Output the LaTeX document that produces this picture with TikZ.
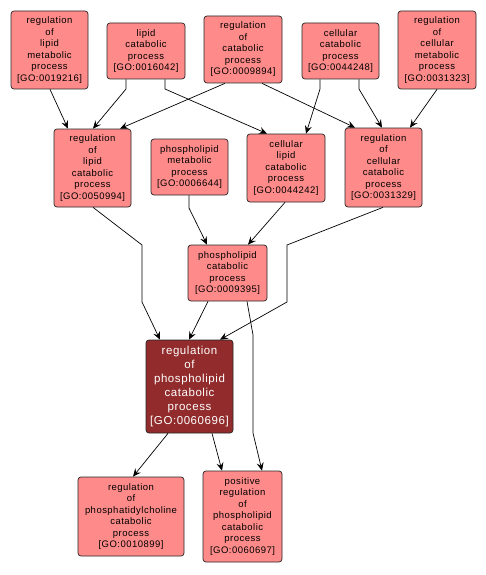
\documentclass[tikz,border=0pt]{standalone}
\usepackage{fontspec}
\setmainfont{Liberation Sans}
\newfontfamily\lsfont[LetterSpace=5]{Liberation Sans}
\usetikzlibrary{arrows.meta}
\definecolor{lightred}{HTML}{FF8A8A}
\definecolor{darkred}{HTML}{922B2B}
\tikzset{
  goterm/.style={draw=black!85, line width=0.7pt, rounded corners=3pt, fill=lightred,
    inner sep=0pt, align=center, font=\lsfont\fontsize{9.5}{11.5}\selectfont, text=black},
  focus/.style={goterm, fill=darkred, text=white, font=\lsfont\fontsize{11.5}{14}\selectfont},
  edge/.style={line width=0.7pt, -{Stealth[length=8pt,width=7pt,inset=3pt]}}
}
\begin{document}
\begin{tikzpicture}[x=1pt,y=-1pt]
\useasboundingbox (0,0) rectangle (486,575);
\node[goterm, minimum width=77pt, minimum height=78pt] (a) at (49.5,50) {regulation\\of\\lipid\\metabolic\\process\\{[GO:0019216]}};
\node[goterm, minimum width=78pt, minimum height=56pt] (b) at (146,51) {lipid\\catabolic\\process\\{[GO:0016042]}};
\node[goterm, minimum width=78pt, minimum height=67pt] (c) at (243,49.5) {regulation\\of\\catabolic\\process\\{[GO:0009894]}};
\node[goterm, minimum width=77pt, minimum height=56pt] (d) at (340.5,51) {cellular\\catabolic\\process\\{[GO:0044248]}};
\node[goterm, minimum width=78pt, minimum height=78pt] (e) at (437,50) {regulation\\of\\cellular\\metabolic\\process\\{[GO:0031323]}};
\node[goterm, minimum width=77pt, minimum height=78pt] (f) at (92.5,168) {regulation\\of\\lipid\\catabolic\\process\\{[GO:0050994]}};
\node[goterm, minimum width=77pt, minimum height=56pt] (g) at (189.5,167) {phospholipid\\metabolic\\process\\{[GO:0006644]}};
\node[goterm, minimum width=78pt, minimum height=68pt] (h) at (286,168) {cellular\\lipid\\catabolic\\process\\{[GO:0044242]}};
\node[goterm, minimum width=77pt, minimum height=79pt] (i) at (383.5,167.5) {regulation\\of\\cellular\\catabolic\\process\\{[GO:0031329]}};
\node[goterm, minimum width=79pt, minimum height=56pt] (j) at (227.5,273) {phospholipid\\catabolic\\process\\{[GO:0009395]}};
\node[focus, minimum width=87pt, minimum height=93pt] (k) at (189.5,386.5) {regulation\\of\\phospholipid\\catabolic\\process\\{[GO:0060696]}};
\node[goterm, minimum width=106pt, minimum height=79pt] (l) at (131,516.5) {regulation\\of\\phosphatidylcholine\\catabolic\\process\\{[GO:0010899]}};
\node[goterm, minimum width=79pt, minimum height=91pt] (m) at (242.5,516.5) {positive\\regulation\\of\\phospholipid\\catabolic\\process\\{[GO:0060697]}};
\coordinate (w2) at (126,89);
\coordinate (w4) at (165,89);
\coordinate (w6) at (320,89);
\coordinate (w7) at (359,89);
\coordinate (w9a) at (142,245);
\coordinate (w9b) at (142,302);
\coordinate (w10) at (189,208);
\coordinate (w12a) at (287,245);
\coordinate (w12b) at (287,302);
\coordinate (w14a) at (253,335);
\coordinate (w14b) at (253,433);
\draw[edge] ([xshift=0.5pt]a.south) -- ([xshift=-24.5pt]f.north);
\draw[edge] ([xshift=-20pt]b.south) -- (w2) -- ([xshift=0.5pt]f.north);
\draw[edge] ([xshift=-18pt]c.south) -- ([xshift=27.5pt]f.north);
\draw[edge] ([xshift=19pt]b.south) -- (w4) -- ([xshift=-19pt]h.north);
\draw[edge] ([xshift=19pt]c.south) -- ([xshift=-28.5pt]i.north);
\draw[edge] ([xshift=-20.5pt]d.south) -- (w6) -- ([xshift=20pt]h.north);
\draw[edge] ([xshift=18.5pt]d.south) -- (w7) -- ([xshift=-1.5pt]i.north);
\draw[edge] (e.south) -- ([xshift=26.5pt]i.north);
\draw[edge] ([xshift=0.5pt]f.south) -- (w9a) -- (w9b) -- ([xshift=-29.5pt]k.north);
\draw[edge] ([xshift=-0.5pt]g.south) -- (w10) -- ([xshift=-20.5pt]j.north);
\draw[edge] ([xshift=-1pt]h.south) -- ([xshift=20.5pt]j.north);
\draw[edge] ([xshift=-0.5pt]i.south) -- (w12a) -- (w12b) -- ([xshift=30.5pt]k.north);
\draw[edge] ([xshift=-19.5pt]j.south) -- ([xshift=-0.5pt]k.north);
\draw[edge] ([xshift=19.5pt]j.south) -- (w14a) -- (w14b) -- ([xshift=19.5pt]m.north);
\draw[edge] ([xshift=-21.5pt]k.south) -- ([xshift=2pt]l.north);
\draw[edge] ([xshift=22.5pt]k.south) -- ([xshift=-20.5pt]m.north);
\end{tikzpicture}
\end{document}
